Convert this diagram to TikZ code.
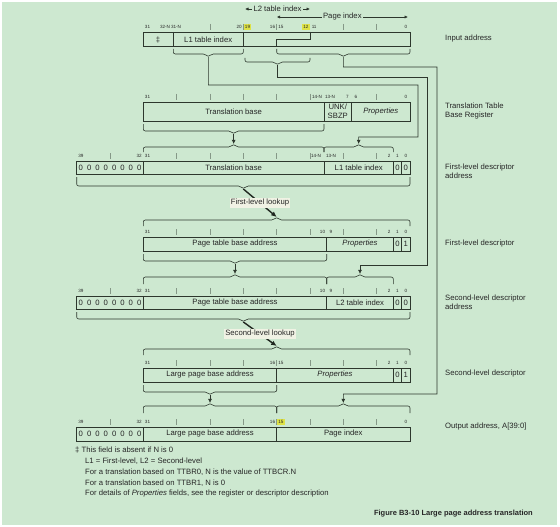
\documentclass[tikz,border=0pt]{standalone}
\usepackage{fontspec}
\setmainfont{Liberation Sans}
\usetikzlibrary{arrows.meta}
\definecolor{bg}{RGB}{205,232,208}
\definecolor{ln}{RGB}{45,55,45}
\definecolor{hl}{RGB}{222,226,70}
\definecolor{lk}{RGB}{240,242,228}
\newcounter{nc}
\newcommand\bitlab[3]{\stepcounter{nc}\node[bl] (bl\arabic{nc}) at ({405.833-8.3333*#1},#2) {#3};}
\newcommand\xlab[3]{\stepcounter{nc}\node[bl] (bl\arabic{nc}) at (#1,#2) {#3};}
\newcommand\brc[6]{\draw[brc] (#1,#3) -- (#1,#4) -- ({(#1+#2)/2-3},#4) -- ({(#1+#2)/2},#5) -- ({(#1+#2)/2+3},#4) -- (#2,#4) -- (#2,#3); \coordinate (#6) at ({(#1+#2)/2},#5);}
\newcommand\bticks[2]{\foreach \k in {#2} {\draw[btk] ({410-8.3333*\k},#1-8) -- ({410-8.3333*\k},#1-2);}}
\newcommand\zeros[2]{\foreach \b in {32,...,39} {\node[tx] (#1\b) at ({405.833-8.3333*\b},#2) {0};}}
\tikzset{
 bx/.style={draw=ln, line width=0.6pt},
 brc/.style={draw=ln, line width=0.6pt, rounded corners=2pt},
 btk/.style={draw=ln!45!bg, line width=0.5pt},
 bl/.style={font=\fontsize{4.6}{5}\selectfont, inner sep=0pt, text=black!85},
 tx/.style={font=\fontsize{7.7}{9}\selectfont, inner sep=0pt, text=black!85},
 rt/.style={tx, anchor=west, align=left},
 route/.style={draw=ln, line width=0.6pt},
 arr/.style={route, -{Latex[length=4.2pt,width=4pt]}},
 look/.style={draw=ln!70!black, line width=1.4pt, -{Latex[length=5.5pt,width=5pt]}},
 lkl/.style={tx, fill=lk, inner sep=1pt},
}
\begin{document}
\begin{tikzpicture}[x=1pt,y=-1pt]
\fill[white] (0,0) rectangle (560,527);
\fill[bg] (2,2) rectangle (557,525);
\useasboundingbox (0,0) rectangle (560,527);

% ---- top index arrows
\coordinate (l2a) at (245,9); \coordinate (l2b) at (310,9);
\coordinate (pia) at (276.7,17); \coordinate (pib) at (408,17);
\draw[route, {Latex[length=3.5pt,width=3.2pt]}-{Latex[length=3.5pt,width=3.2pt]}] (l2a) -- (l2b) node[tx, midway, fill=bg, inner sep=1.2pt] (l2t) {L2 table index};
\draw[route, {Latex[length=3.5pt,width=3.2pt]}-{Latex[length=3.5pt,width=3.2pt]}] (pia) -- (pib) node[tx, midway, fill=bg, inner sep=1.2pt] (pit) {Page index};

% ---- Row 1: input address
\fill[hl] (243.6,24) rectangle (251.2,30);
\fill[hl] (302,24) rectangle (309.6,30);
\draw[bx] (143.3,32) rectangle (410,46);
\draw[bx] (173,32) -- (173,46);
\draw[bx] (243.3,32) -- (243.3,46);
\draw[bx] (310,32) -- (310,39) -- (276.7,39) -- (276.7,46);
\bitlab{31}{27}{31}\xlab{165}{27}{32-N}\xlab{176}{27}{31-N}
\bitlab{20}{27}{20}\bitlab{19}{27}{19}\bitlab{16}{27}{16}\bitlab{15}{27}{15}
\bitlab{12}{27}{12}\bitlab{11}{27}{11}\bitlab{0}{27}{0}
\bticks{32}{24,20,16,8,4}
\node[tx] (r1a) at (158,39.5) {‡};
\node[tx] (r1b) at (208.2,39.5) {L1 table index};
\brc{173.3}{243.3}{49}{54}{57}{t1a}
\brc{245}{310}{58}{62}{65}{t1b}
\brc{276.7}{410}{49}{54}{57}{t1c}

% ---- Row 2: TTBR
\draw[bx] (143.3,102) rectangle (410,121);
\draw[bx] (324,102) -- (324,121);
\draw[bx] (351.7,102) -- (351.7,121);
\bitlab{31}{97}{31}\xlab{317}{97}{14-N}\xlab{330}{97}{13-N}
\bitlab{7}{97}{7}\bitlab{6}{97}{6}\bitlab{0}{97}{0}
\bticks{102}{28,24,20,16,12,4}
\node[tx] (r2a) at (233.6,111.5) {Translation base};
\node[tx, align=center] (r2b) at (337.8,111.5) {UNK/\\SBZP};
\node[tx, font=\fontsize{7.7}{9}\selectfont\itshape] (r2c) at (380.8,111.5) {Properties};
\brc{143.3}{324}{124}{131}{134}{t2}

% ---- Row 3: first-level descriptor address
\brc{143.3}{324}{152}{147}{144}{t3a}
\brc{324}{393.3}{152}{147}{144}{t3b}
\draw[bx] (76.7,161) rectangle (410,174);
\foreach \x in {143.3,324,393.3,401.7} {\draw[bx] (\x,161) -- (\x,174);}
\bitlab{39}{156}{39}\bitlab{32}{156}{32}\bitlab{31}{156}{31}
\xlab{316}{156}{14-N}\xlab{331}{156}{13-N}
\bitlab{2}{156}{2}\bitlab{1}{156}{1}\bitlab{0}{156}{0}
\bticks{161}{36,28,24,20,16,12,8,4}
\zeros{z3}{167.5}
\node[tx] (r3a) at (233.6,167.5) {Translation base};
\node[tx] (r3b) at (358.7,167.5) {L1 table index};
\node[tx] (r3c) at (397.5,167.5) {0};
\node[tx] (r3d) at (405.8,167.5) {0};
\brc{76.7}{410}{177}{186}{189}{t3c}

% ---- Row 4: first-level descriptor
\brc{143.3}{410}{226}{220}{217}{t4a}
\draw[bx] (143.3,237) rectangle (410,251);
\foreach \x in {326.7,393.3,401.7} {\draw[bx] (\x,237) -- (\x,251);}
\bitlab{31}{232}{31}\bitlab{10}{232}{10}\bitlab{9}{232}{9}
\bitlab{2}{232}{2}\bitlab{1}{232}{1}\bitlab{0}{232}{0}
\bticks{237}{28,24,20,16,12,8,4}
\node[tx] (r4a) at (235,244) {Page table base address};
\node[tx, font=\fontsize{7.7}{9}\selectfont\itshape] (r4b) at (360,244) {Properties};
\node[tx] (r4c) at (397.5,244) {0};
\node[tx] (r4d) at (405.8,244) {1};
\brc{143.3}{326.7}{254}{261}{264}{t4b}

% ---- Row 5: second-level descriptor address
\brc{143.3}{326.7}{284}{277}{274}{t5a}
\brc{326.7}{393.3}{284}{277}{274}{t5b}
\draw[bx] (76.7,296) rectangle (410,309);
\foreach \x in {143.3,326.7,393.3,401.7} {\draw[bx] (\x,296) -- (\x,309);}
\bitlab{39}{291}{39}\bitlab{32}{291}{32}\bitlab{31}{291}{31}
\bitlab{10}{291}{10}\bitlab{9}{291}{9}
\bitlab{2}{291}{2}\bitlab{1}{291}{1}\bitlab{0}{291}{0}
\bticks{296}{36,28,24,20,16,12,8,4}
\zeros{z5}{302.5}
\node[tx] (r5a) at (235,302.5) {Page table base address};
\node[tx] (r5b) at (360,302.5) {L2 table index};
\node[tx] (r5c) at (397.5,302.5) {0};
\node[tx] (r5d) at (405.8,302.5) {0};
\brc{76.7}{410}{312}{319}{322}{t5c}

% ---- Row 6: second-level descriptor
\brc{143.3}{410}{355}{349}{346}{t6a}
\draw[bx] (143.3,368) rectangle (410,382);
\foreach \x in {276.7,393.3,401.7} {\draw[bx] (\x,368) -- (\x,382);}
\bitlab{31}{363}{31}\bitlab{16}{363}{16}\bitlab{15}{363}{15}
\bitlab{2}{363}{2}\bitlab{1}{363}{1}\bitlab{0}{363}{0}
\bticks{368}{28,24,20,16,12,8,4}
\node[tx] (r6a) at (210,375) {Large page base address};
\node[tx, font=\fontsize{7.7}{9}\selectfont\itshape] (r6b) at (335,375) {Properties};
\node[tx] (r6c) at (397.5,375) {0};
\node[tx] (r6d) at (405.8,375) {1};
\brc{143.3}{276.7}{385}{392}{395}{t6b}

% ---- Row 7: output address
\brc{143.3}{276.7}{413}{406}{403}{t7a}
\brc{276.7}{410}{413}{406}{403}{t7b}
\fill[hl] (277.2,419) rectangle (284.6,425);
\draw[bx] (76.7,427) rectangle (410,441);
\foreach \x in {143.3,276.7} {\draw[bx] (\x,427) -- (\x,441);}
\bitlab{39}{422}{39}\bitlab{32}{422}{32}\bitlab{31}{422}{31}
\bitlab{16}{422}{16}\bitlab{15}{422}{15}\bitlab{0}{422}{0}
\bticks{427}{36,28,24,20,16,12,8,4}
\zeros{z7}{434}
\node[tx] (r7a) at (210,434) {Large page base address};
\node[tx] (r7b) at (343.3,434) {Page index};

% ---- connectors
\draw[arr] (t1a) |- (418,85) |- (358.7,137) -- (t3b);
\draw[arr] (t1b) |- (427,77) |- (360,265) -- (t5b);
\draw[arr] (t1c) |- (437,67) |- (343.3,394) -- (t7b);
\draw[arr] (t2) -- (t3a);
\draw[arr] (t4b) -- (t5a);
\draw[arr] (t6b) -- (t7a);
\draw[look] (t3c) -- (t4a) node[lkl, midway] (lk1) {First-level lookup};
\draw[look] (t5c) -- (t6a) node[lkl, midway] (lk2) {Second-level lookup};

% ---- right-hand labels
\node[rt] (n1) at (445,39) {Input address};
\node[rt] (n2) at (445,111.5) {Translation Table\\Base Register};
\node[rt] (n3) at (445,171.5) {First-level descriptor\\address};
\node[rt] (n4) at (445,244) {First-level descriptor};
\node[rt] (n5) at (445,302.5) {Second-level descriptor\\address};
\node[rt] (n6) at (445,374) {Second-level descriptor};
\node[rt] (n7) at (445,427) {Output address, A[39:0]};

% ---- footnotes
\node[tx, anchor=west] (fn1) at (75,450) {‡ This field is absent if N is 0};
\node[tx, anchor=west] (fn2) at (85,461) {L1 = First-level, L2 = Second-level};
\node[tx, anchor=west] (fn3) at (85,472.5) {For a translation based on TTBR0, N is the value of TTBCR.N};
\node[tx, anchor=west] (fn4) at (85,483) {For a translation based on TTBR1, N is 0};
\node[tx, anchor=west] (fn5) at (85,493.5) {For details of \textit{Properties} fields, see the register or descriptor description};
\node[tx, font=\fontsize{7.5}{9}\selectfont\bfseries, anchor=east] (cap) at (533,514) {Figure B3-10 Large page address translation};
\end{tikzpicture}
\end{document}
